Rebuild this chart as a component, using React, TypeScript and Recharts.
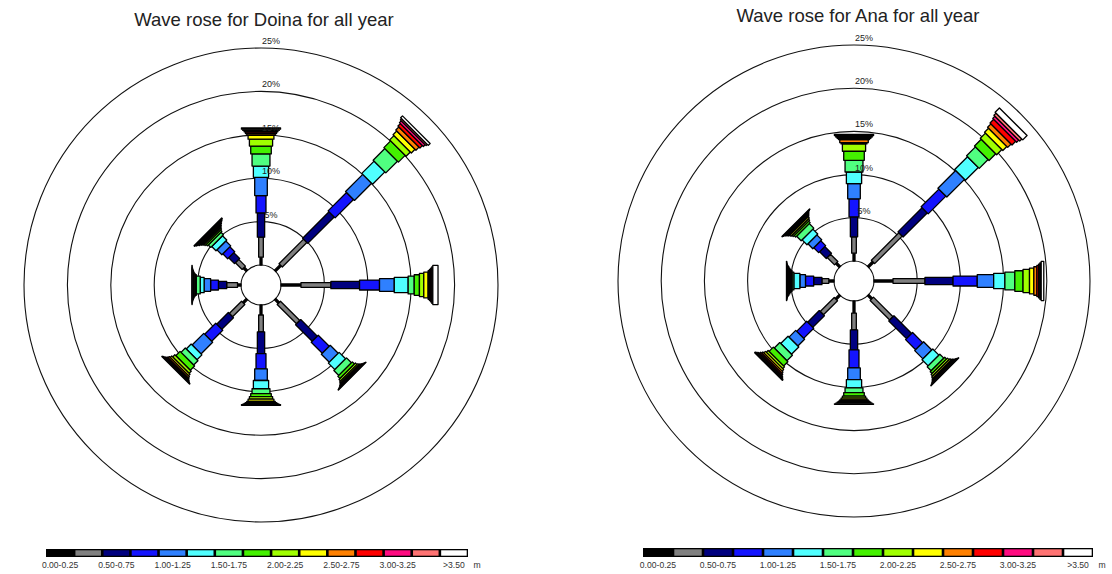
import { RadialBarChart, RadialBar, PolarAngleAxis, PolarRadiusAxis, PolarGrid } from 'recharts'

const directions = ['N', 'NE', 'E', 'SE', 'S', 'SW', 'W', 'NW']
const classLabels = [
  '0.00-0.25', '0.25-0.50', '0.50-0.75', '0.75-1.00', '1.00-1.25', '1.25-1.50', '1.50-1.75',
  '1.75-2.00', '2.00-2.25', '2.25-2.50', '2.50-2.75', '2.75-3.00', '3.00-3.25', '3.25-3.50', '>3.50',
]
const classColors = [
  '#000000', '#808080', '#00007f', '#1414ff', '#2f80ff', '#50ffff', '#50ff80',
  '#44f000', '#a0ff00', '#ffff00', '#ff8000', '#ff0000', '#ff0a80', '#ff7373', '#ffffff',
]
const classKeys = classLabels.map((_, i) => `h${i}`)
const ringTicks = [0, 5, 10, 15, 20, 25]

// % of time per height class, Doina
const doinaN = [0.9, 2.3, 2.8, 2.0, 2.1, 1.3, 1.4, 0.9, 0.8, 0.45, 0.2, 0.2, 0.15, 0.15, 0.15]
const doinaNE = [0.9, 4.0, 4.3, 3.0, 2.8, 2.0, 1.9, 1.1, 0.7, 0.6, 0.5, 0.4, 0.3, 0.2, 0.3]
const doinaE = [2.3, 3.45, 3.3, 2.3, 1.7, 1.6, 0.7, 0.6, 0.5, 0.5, 0.15, 0.15, 0.12, 0.12, 0.6]
const doinaSE = [0.6, 3.15, 2.7, 1.8, 1.3, 1.05, 0.8, 0.35, 0.25, 0.18, 0.12, 0.1, 0.06, 0.05, 0.05]
const doinaS = [1.15, 1.95, 2.5, 1.75, 1.35, 0.95, 0.55, 0.35, 0.3, 0.25, 0.15, 0.1, 0.08, 0.06, 0.06]
const doinaSW = [0.6, 2.0, 1.9, 1.8, 1.9, 0.8, 0.7, 0.7, 0.35, 0.25, 0.2, 0.15, 0.1, 0.08, 0.07]
const doinaW = [0.4, 1.25, 0.95, 0.9, 0.75, 0.45, 0.45, 0.15, 0.1, 0.08, 0.06, 0.04, 0.03, 0.02, 0.02]
const doinaNW = [0.5, 1.1, 0.95, 0.8, 0.8, 0.7, 0.4, 0.22, 0.18, 0.15, 0.13, 0.12, 0.1, 0.1, 0.1]

// Ana
const anaN = [0.9, 1.9, 2.3, 2.1, 1.75, 1.35, 1.35, 1.05, 0.85, 0.15, 0.35, 0.15, 0.15, 0.15, 0.15]
const anaNE = [0.8, 4.5, 3.95, 2.9, 2.9, 2.1, 1.45, 1.1, 0.85, 0.65, 0.55, 0.6, 0.35, 0.35, 0.7]
const anaE = [2.2, 3.7, 3.25, 2.8, 1.9, 1.3, 1.15, 0.95, 0.75, 0.5, 0.35, 0.2, 0.15, 0.15, 0.3]
const anaSE = [0.6, 3.2, 2.9, 1.65, 1.35, 1.0, 0.65, 0.3, 0.25, 0.2, 0.15, 0.12, 0.08, 0.06, 0.05]
const anaS = [1.4, 1.95, 2.3, 2.1, 1.35, 0.95, 0.55, 0.4, 0.25, 0.2, 0.15, 0.12, 0.1, 0.08, 0.06]
const anaSW = [0.65, 2.3, 1.9, 1.65, 1.1, 1.2, 0.9, 0.7, 0.3, 0.25, 0.2, 0.18, 0.13, 0.12, 0.1]
const anaW = [0.6, 0.8, 0.95, 0.95, 0.65, 0.7, 0.2, 0.15, 0.12, 0.1, 0.1, 0.08, 0.04, 0.03, 0.03]
const anaNW = [0.6, 1.2, 1.1, 0.8, 0.8, 0.8, 0.75, 0.25, 0.2, 0.2, 0.15, 0.15, 0.1, 0.07, 0.05]

const doina = [doinaN, doinaNE, doinaE, doinaSE, doinaS, doinaSW, doinaW, doinaNW]
const ana = [anaN, anaNE, anaE, anaSE, anaS, anaSW, anaW, anaNW]

// bar gets wider with height class
const segWidths = classKeys.map((_, i) => 2 + 2.65 * i)

const FONT = '"Liberation Sans", Arial, sans-serif'

function toRows(series: number[][]) {
  return directions.map((dir, d) => {
    const row: Record<string, string | number> = { dir }
    classKeys.forEach((k, i) => { row[k] = series[d][i] })
    return row
  })
}

function Segment(props: any) {
  const { cx, cy, innerRadius, outerRadius, startAngle, endAngle, fill, width } = props
  const a = ((startAngle + endAngle) / 2) * Math.PI / 180
  const ux = Math.cos(a), uy = -Math.sin(a)
  const nx = -uy, ny = ux
  const h = width / 2
  const p = (r: number, s: number) => `${cx + ux * r + nx * h * s},${cy + uy * r + ny * h * s}`
  const pts = [p(innerRadius, 1), p(outerRadius, 1), p(outerRadius, -1), p(innerRadius, -1)].join(' ')
  return <polygon points={pts} fill={fill} stroke="#000" strokeWidth={1.3} strokeLinejoin="round" />
}

function RingTick(props: any) {
  const { x, y, payload } = props
  if (payload.value === 0) return null
  return (
    <text x={x + 10} y={y - 4} textAnchor="middle" fontSize={9} fontFamily={FONT} fill="#222">
      {`${payload.value}%`}
    </text>
  )
}

interface RoseProps {
  series: number[][]
  left: number
  cx: number
  cy: number
  outer: number
}

function WaveRose({ series, left, cx, cy, outer }: RoseProps) {
  return (
    <div style={{ position: 'absolute', left, top: 0 }}>
      <RadialBarChart
        width={556}
        height={574}
        data={toRows(series)}
        layout="centric"
        cx={cx}
        cy={cy}
        innerRadius={20}
        outerRadius={outer}
        startAngle={67.5}
        endAngle={-292.5}
        margin={{ top: 0, right: 0, bottom: 0, left: 0 }}
      >
        <PolarGrid gridType="circle" radialLines={false} stroke="#111" strokeWidth={1.1} />
        <PolarAngleAxis type="category" dataKey="dir" tick={false} tickLine={false} axisLine={false} />
        <PolarRadiusAxis
          type="number"
          domain={[0, 25]}
          ticks={ringTicks}
          angle={90}
          axisLine={false}
          tickLine={false}
          tick={RingTick}
        />
        {classKeys.map((k, i) => (
          <RadialBar
            key={k}
            dataKey={k}
            stackId="a"
            fill={classColors[i]}
            isAnimationActive={false}
            shape={(p: any) => <Segment {...p} width={segWidths[i]} />}
          />
        ))}
      </RadialBarChart>
    </div>
  )
}

function ColorBar({ x, y, w, h }: { x: number; y: number; w: number; h: number }) {
  const bw = w / classColors.length
  return (
    <g>
      <rect x={x} y={y} width={w} height={h} fill="#000" />
      {classColors.map((c, i) => (
        <rect key={i} x={x + i * bw + 1.3} y={y + 1.3} width={bw - 2.6} height={h - 2.6} fill={c} />
      ))}
      {classLabels.map((l, i) =>
        i % 2 === 0 ? (
          <text key={l} x={x + (i + 0.5) * bw} y={y + h + 11} textAnchor="middle" fontSize={8.6} fontFamily={FONT} fill="#333">
            {l}
          </text>
        ) : null,
      )}
      <text x={x + w + 9} y={y + h + 11} textAnchor="middle" fontSize={8.6} fontFamily={FONT} fill="#333">m</text>
    </g>
  )
}

export default function App() {
  return (
    <div style={{ position: 'absolute', left: 0, top: 0, width: 1112, height: 574, background: '#fff', overflow: 'hidden' }}>
      <WaveRose series={doina} left={0} cx={261} cy={285} outer={237} />
      <WaveRose series={ana} left={556} cx={298} cy={281} outer={236} />
      <svg width={1112} height={574} style={{ position: 'absolute', left: 0, top: 0, pointerEvents: 'none' }}>
        <text x={264} y={26} textAnchor="middle" fontSize={18.5} fontFamily={FONT} fill="#222">Wave rose for Doina for all year</text>
        <text x={858} y={22} textAnchor="middle" fontSize={18.5} fontFamily={FONT} fill="#222">Wave rose for Ana for all year</text>
        <ColorBar x={46} y={549} w={422} h={8} />
        <ColorBar x={643} y={548} w={450} h={9} />
      </svg>
    </div>
  )
}
